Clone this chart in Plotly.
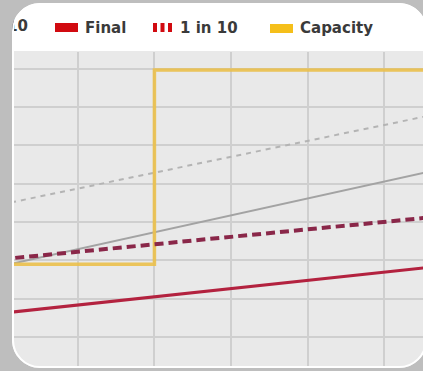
import plotly.graph_objects as go

# ---- data ---------------------------------------------------------------
years = [2011, 2017]
final_vals = [46.2, 59.1]
one_in_ten_vals = [60.3, 72.0]
draft_vals = [58.5, 85.0]
draft_one_in_ten_vals = [74.6, 99.5]

capacity_years = [2011, 2013, 2017]
capacity_vals = [59.0, 109.7, 109.7]

legend_labels = ["Final", "1 in 10", "Capacity"]
cut_label = "10"

# ---- canvas geometry (pixels) -----------------------------------------
W, H = 423, 371
L = 12          # left edge of the card

def px_x(p):
    return (p - L) / (W - L)

def px_y(p):
    return (H - p) / H

def pt(x, y):
    return f"{px_x(x):.5f},{px_y(y):.5f}"

def rrect(x0, y0, x1, y1, r):
    k = 0.5523 * r
    return (
        f"M{pt(x0 + r, y0)} L{pt(x1 - r, y0)} "
        f"C{pt(x1 - r + k, y0)} {pt(x1, y0 + r - k)} {pt(x1, y0 + r)} "
        f"L{pt(x1, y1 - r)} "
        f"C{pt(x1, y1 - r + k)} {pt(x1 - r + k, y1)} {pt(x1 - r, y1)} "
        f"L{pt(x0 + r, y1)} "
        f"C{pt(x0 + r - k, y1)} {pt(x0, y1 - r + k)} {pt(x0, y1 - r)} "
        f"L{pt(x0, y0 + r)} "
        f"C{pt(x0, y0 + r - k)} {pt(x0 + r - k, y0)} {pt(x0 + r, y0)} Z"
    )

GRAY_BG = "#bebebe"
PLOT_BG = "#e9e9e9"
GRID = "#cfcfcf"
RED = "#d10a10"
FINAL_C = "#b3223f"
TEN_C = "#8a2749"
CAP_C = "rgba(234,192,78,0.92)"
TEXT_C = "#3a3a3a"

fig = go.Figure()

fig.add_trace(go.Scatter(x=years, y=draft_one_in_ten_vals, mode="lines",
                         line=dict(color="#b4b4b4", width=2, dash="5px,5px"),
                         name="Draft 1 in 10"))
fig.add_trace(go.Scatter(x=years, y=draft_vals, mode="lines",
                         line=dict(color="#a3a3a3", width=2), name="Draft"))
fig.add_trace(go.Scatter(x=capacity_years, y=capacity_vals, mode="lines",
                         line=dict(color=CAP_C, width=3.5, shape="hv"),
                         name=legend_labels[2]))
fig.add_trace(go.Scatter(x=years, y=final_vals, mode="lines",
                         line=dict(color=FINAL_C, width=3), name=legend_labels[0]))
fig.add_trace(go.Scatter(x=years, y=one_in_ten_vals, mode="lines",
                         line=dict(color=TEN_C, width=4, dash="9px,5px"),
                         name=legend_labels[1]))

font = dict(family="DejaVu Sans", size=15, color=TEXT_C)

# legend entry running off the left side of the card, clipped by its own strip
fig.add_trace(go.Scatter(x=[px_x(28)], y=[0.5], mode="text",
                         text=[f"<b>{cut_label}</b>"], textposition="middle left",
                         textfont=font, cliponaxis=True, hoverinfo="skip",
                         xaxis="x2", yaxis="y2"))

shapes = [
    # card body
    dict(type="path", xref="paper", yref="paper", layer="below",
         path=rrect(12, 3, 427, 368, 28), fillcolor="white", line=dict(width=0)),
    # plotting panel
    dict(type="rect", xref="paper", yref="paper", layer="below",
         x0=px_x(14), x1=px_x(440), y0=px_y(380), y1=px_y(51),
         fillcolor=PLOT_BG, line=dict(width=0)),
    # outside of the rounded card
    dict(type="path", xref="paper", yref="paper", layer="above",
         path=f"M{pt(-20, -20)} L{pt(460, -20)} L{pt(460, 400)} L{pt(-20, 400)} Z "
              + rrect(12, 3, 427, 368, 28),
         fillcolor=GRAY_BG, line=dict(width=0), fillrule="evenodd"),
    # white rim of the card
    dict(type="path", xref="paper", yref="paper", layer="above",
         path=rrect(13, 4, 426, 367, 27), fillcolor="rgba(0,0,0,0)",
         line=dict(color="white", width=2)),
    # legend swatches
    dict(type="rect", xref="paper", yref="paper", layer="above",
         x0=px_x(55), x1=px_x(78), y0=px_y(32), y1=px_y(23),
         fillcolor=RED, line=dict(width=0)),
    dict(type="rect", xref="paper", yref="paper", layer="above",
         x0=px_x(270), x1=px_x(293), y0=px_y(33), y1=px_y(24),
         fillcolor="#f5bf1a", line=dict(width=0)),
]
for bx in (153, 160.5, 168):
    shapes.append(dict(type="rect", xref="paper", yref="paper", layer="above",
                       x0=px_x(bx), x1=px_x(bx + 4), y0=px_y(32), y1=px_y(23),
                       fillcolor=RED, line=dict(width=0)))

annotations = [
    dict(text=f"<b>{legend_labels[0]}</b>", x=px_x(84), y=px_y(27.5), xanchor="left"),
    dict(text=f"<b>{legend_labels[1]}</b>", x=px_x(179), y=px_y(27.5), xanchor="left"),
    dict(text=f"<b>{legend_labels[2]}</b>", x=px_x(299), y=px_y(28.5), xanchor="left"),
]
for a in annotations:
    a.update(xref="paper", yref="paper", yanchor="middle", showarrow=False,
             font=font, borderpad=0)

hidden = dict(visible=False, showgrid=False, zeroline=False, fixedrange=True)

fig.update_layout(
    width=W, height=H,
    margin=dict(l=L, r=0, t=0, b=0),
    paper_bgcolor=GRAY_BG,
    plot_bgcolor="rgba(0,0,0,0)",
    showlegend=False,
    shapes=shapes,
    annotations=annotations,
    xaxis=dict(domain=[px_x(14), 1], range=[2011.166, 2016.508], tick0=2012, dtick=1,
               showticklabels=False, showgrid=True, gridcolor=GRID, gridwidth=1.5,
               zeroline=False, showline=False, ticks=""),
    yaxis=dict(domain=[0, px_y(52)], range=[31.12, 114.41], tick0=40, dtick=10,
               showticklabels=False, showgrid=True, gridcolor=GRID, gridwidth=1.5,
               zeroline=False, showline=False, ticks=""),
    xaxis2=dict(domain=[0, 1], range=[0, 1], anchor="y2", **hidden),
    yaxis2=dict(domain=[px_y(48), px_y(8)], range=[px_y(48), px_y(8)],
                anchor="x2", **hidden),
)
# keep the strip's text centred at the legend row
fig.data[-1].y = [px_y(27.5)]

fig.write_html("out.html")
